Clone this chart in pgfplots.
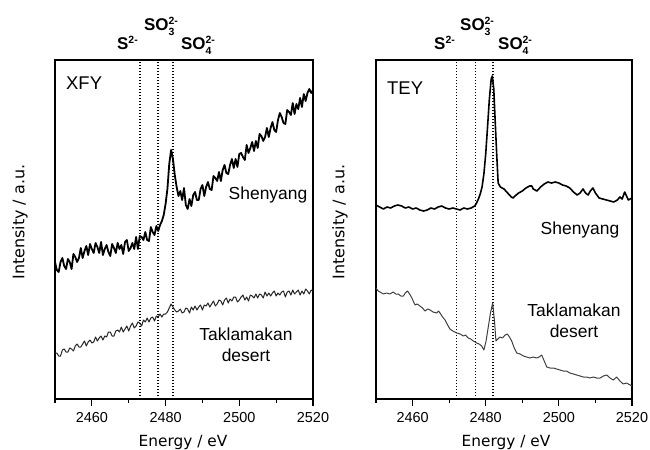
\documentclass[border=0pt]{standalone}
\usepackage{fontspec}
\setmainfont{Liberation Sans}
\newfontfamily\dejavu{DejaVu Sans}
\usepackage{pgfplots}
\pgfplotsset{compat=1.18}
\newcommand{\scr}{\fontsize{10.5}{10.5}\selectfont}
\newcommand{\ion}[2]{\textbf{#1\rlap{\raisebox{-5bp}{\scr #2}}\raisebox{5.2bp}{\scr 2-}}}
\newcommand{\sion}{\textbf{S\raisebox{5.2bp}{\scr 2-}}}
\pgfplotsset{
  panel/.style={
    anchor=south west, scale only axis, height=339bp,
    xmin=2450, xmax=2520, ymin=0, ymax=339,
    xtick={2460,2480,2500,2520}, minor xtick={2450,2470,2490,2510},
    ytick=\empty, xtick pos=bottom, tick align=outside,
    major tick length=7bp, minor tick length=4bp,
    axis line style={line width=1.3bp},
    every tick/.style={line width=1.1bp, black},
    /pgf/number format/assume math mode=true,
    /pgf/number format/1000 sep={},
    xticklabel style={font=\fontsize{14.5}{14.5}\selectfont, yshift=-3bp},
  },
  vline/.style={black, line width=1.5bp, dash pattern=on 1.5bp off 1.5bp},
}
\begin{document}
\begin{tikzpicture}
\useasboundingbox (0,0) rectangle (650bp,-450bp);
% ---------------- left panel (XFY)
\begin{axis}[panel, at={(55bp,-399bp)}, width=258bp]
\addplot[vline] coordinates {(2473,0) (2473,339)};
\addplot[vline] coordinates {(2478,0) (2478,339)};
\addplot[vline] coordinates {(2482,0) (2482,339)};
% Shenyang XFY
\addplot[black, line width=1.8bp, line join=round] coordinates {
(2450.0,137)(2450.5,129)(2451.0,127)(2451.5,137)(2452.0,141)(2452.5,133)(2453.0,130)(2453.5,140)(2454.0,137)(2454.5,130)
(2455.0,145)(2455.5,142)(2456.0,137)(2456.5,141)(2457.0,151)(2457.5,141)(2458.0,148)(2458.5,153)(2459.0,144)(2459.5,155)
(2460.0,150)(2460.5,146)(2461.0,156)(2461.5,152)(2462.0,146)(2462.5,157)(2463.0,144)(2463.5,150)(2464.0,154)(2464.5,147)
(2465.0,143)(2465.5,155)(2466.0,151)(2466.5,146)(2467.0,156)(2467.5,150)(2468.0,154)(2468.5,145)(2469.0,157)(2469.5,159)
(2470.0,148)(2470.5,151)(2471.0,156)(2471.5,150)(2472.0,162)(2472.5,150)(2473.0,163)(2473.5,162)(2474.0,159)(2474.5,167)
(2475.0,159)(2475.5,158)(2476.0,172)(2476.5,167)(2477.0,164)(2477.5,173)(2478.0,168)(2478.5,174)(2479.0,178)(2479.5,184)
(2480.0,195)(2480.5,210)(2481.0,235)(2481.5,249)(2482.0,240)(2482.5,224)(2483.0,212)(2483.5,203)(2484.0,208)(2484.5,199)
(2485.0,211)(2485.5,194)(2486.0,190)(2486.5,200)(2487.0,193)(2487.5,204)(2488.0,207)(2488.5,199)(2489.0,199)(2489.5,210)
(2490.0,214)(2490.5,203)(2491.0,212)(2491.5,217)(2492.0,210)(2492.5,209)(2493.0,223)(2493.5,221)(2494.0,218)(2494.5,227)
(2495.0,218)(2495.5,229)(2496.0,234)(2496.5,226)(2497.0,225)(2497.5,234)(2498.0,240)(2498.5,231)(2499.0,240)(2499.5,232)
(2500.0,245)(2500.5,246)(2501.0,242)(2501.5,239)(2502.0,254)(2502.5,246)(2503.0,251)(2503.5,257)(2504.0,248)(2504.5,258)
(2505.0,251)(2505.5,265)(2506.0,263)(2506.5,258)(2507.0,262)(2507.5,271)(2508.0,262)(2508.5,271)(2509.0,277)(2509.5,269)
(2510.0,267)(2510.5,279)(2511.0,286)(2511.5,282)(2512.0,276)(2512.5,275)(2513.0,289)(2513.5,287)(2514.0,284)(2514.5,296)
(2515.0,285)(2515.5,295)(2516.0,290)(2516.5,301)(2517.0,292)(2517.5,305)(2518.0,298)(2518.5,306)(2519.0,310)(2519.5,306)
(2520.0,309)};
% Taklamakan XFY
\addplot[black!85, line width=1.0bp, line join=round] coordinates {
(2450.0,46)(2450.5,46)(2451.0,43)(2451.5,43)(2452.0,49)(2452.5,50)(2453.0,47)(2453.5,47)(2454.0,51)(2454.5,50)
(2455.0,48)(2455.5,53)(2456.0,55)(2456.5,52)(2457.0,52)(2457.5,55)(2458.0,58)(2458.5,53)(2459.0,57)(2459.5,59)
(2460.0,56)(2460.5,57)(2461.0,62)(2461.5,58)(2462.0,61)(2462.5,63)(2463.0,59)(2463.5,63)(2464.0,62)(2464.5,67)
(2465.0,67)(2465.5,63)(2466.0,63)(2466.5,68)(2467.0,69)(2467.5,67)(2468.0,72)(2468.5,67)(2469.0,70)(2469.5,73)
(2470.0,68)(2470.5,73)(2471.0,76)(2471.5,71)(2472.0,73)(2472.5,77)(2473.0,76)(2473.5,73)(2474.0,79)(2474.5,77)
(2475.0,81)(2475.5,77)(2476.0,81)(2476.5,82)(2477.0,78)(2477.5,83)(2478.0,82)(2478.5,85)(2479.0,82)(2479.5,85)
(2480.0,85)(2480.5,87)(2481.0,91)(2481.5,95)(2482.0,92)(2482.5,89)(2483.0,87)(2483.5,88)(2484.0,90)(2484.5,86)
(2485.0,87)(2485.5,91)(2486.0,90)(2486.5,86)(2487.0,92)(2487.5,89)(2488.0,93)(2488.5,89)(2489.0,92)(2489.5,94)
(2490.0,89)(2490.5,94)(2491.0,93)(2491.5,96)(2492.0,92)(2492.5,95)(2493.0,98)(2493.5,93)(2494.0,95)(2494.5,99)
(2495.0,98)(2495.5,94)(2496.0,99)(2496.5,101)(2497.0,96)(2497.5,100)(2498.0,98)(2498.5,102)(2499.0,102)(2499.5,97)
(2500.0,99)(2500.5,102)(2501.0,104)(2501.5,99)(2502.0,102)(2502.5,98)(2503.0,104)(2503.5,103)(2504.0,101)(2504.5,105)
(2505.0,101)(2505.5,105)(2506.0,104)(2506.5,101)(2507.0,107)(2507.5,103)(2508.0,106)(2508.5,103)(2509.0,106)(2509.5,108)
(2510.0,103)(2510.5,106)(2511.0,104)(2511.5,107)(2512.0,108)(2512.5,102)(2513.0,107)(2513.5,108)(2514.0,104)(2514.5,109)
(2515.0,105)(2515.5,107)(2516.0,109)(2516.5,104)(2517.0,108)(2517.5,105)(2518.0,110)(2518.5,108)(2519.0,105)(2519.5,109)
(2520.0,108)};
\end{axis}
% ---------------- right panel (TEY)
\begin{axis}[panel, at={(376bp,-399bp)}, width=256bp]
\addplot[vline] coordinates {(2472,0) (2472,339)};
\addplot[vline] coordinates {(2477.2,0) (2477.2,339)};
\addplot[vline] coordinates {(2482,0) (2482,339)};
% Shenyang TEY
\addplot[black, line width=1.6bp, line join=round] coordinates {
(2450,194)(2451,192)(2452,190)(2453,192)(2454,191)(2455,193)(2456,194)(2457,193)(2458,191)(2459,192)
(2460,190)(2461,191)(2462,189)(2463,188)(2464,189)(2465,191)(2466,190)(2467,192)(2468,193)(2469,191)
(2470,190)(2471,191)(2472,190)(2473,189)(2474,191)(2475,190)(2476,191)(2477,193)(2477.5,196)(2478,200)
(2478.5,205)(2479,212)(2479.5,225)(2480,245)(2480.5,272)(2481,300)(2481.5,320)(2481.8,323)(2482.2,310)(2482.5,285)
(2483,245)(2483.4,216)(2484,212)(2485,210)(2486,206)(2487,202)(2487.5,201)(2488,203)(2489,206)(2490,208)
(2491,211)(2492,213)(2492.6,213)(2493,210)(2494,208)(2495,212)(2496,215)(2497,217)(2498,216)(2499,217)
(2500,216)(2501,214)(2502,213)(2503,211)(2504,207)(2505,204)(2505.8,206)(2506.6,210)(2507.3,206)(2508,204)
(2508.6,208)(2509.3,211)(2510,206)(2511,201)(2512,200)(2513,199)(2514,198)(2515,197)(2516,199)(2516.7,202)
(2517.3,200)(2518,207)(2519,199)(2519.5,200)(2520,201)};
% Taklamakan TEY
\addplot[black!75, line width=1.0bp, line join=round] coordinates {
(2450.0,111)(2450.6,108)(2451.1,107)(2452.0,105)(2452.9,106)(2453.8,105)(2454.7,107)(2455.4,105)(2456.1,105)(2456.8,103)
(2457.5,103)(2458.0,106)(2458.6,108)(2459.2,105)(2459.8,101)(2460.3,97)(2460.7,94)(2461.3,95)(2462.0,93)(2462.7,91)
(2463.4,88)(2464.1,90)(2464.8,89)(2465.6,87)(2466.6,86)(2467.1,88)(2467.5,86)(2468.2,82)(2468.9,79)(2469.6,74)
(2470.2,70)(2471.0,68)(2472.1,66)(2473.0,65)(2473.9,63)(2474.5,64)(2475.2,61)(2475.9,60)(2476.6,58)(2477.1,57)
(2477.5,56)(2478.2,55)(2478.9,53)(2479.5,49)(2480.1,58)(2480.7,72)(2481.3,86)(2481.9,96)(2482.4,78)(2482.8,58)
(2483.3,60)(2483.9,62)(2484.6,61)(2485.3,64)(2485.9,65)(2486.5,62)(2487.1,58)(2487.8,51)(2488.5,46)(2489.4,45)
(2490.3,43)(2491.2,42)(2492.1,41)(2493.0,42)(2493.9,41)(2494.6,42)(2495.3,44)(2496.0,38)(2496.7,32)(2497.6,31)
(2498.5,31)(2499.4,30)(2500.3,29)(2501.2,28)(2502.1,28)(2503.0,26)(2504.0,25)(2504.9,24)(2505.8,23)(2506.7,22)
(2507.6,22)(2508.5,21)(2509.4,22)(2510.3,21)(2511.3,21)(2512.2,23)(2513.1,24)(2514.0,21)(2514.9,19)(2515.8,22)
(2516.7,18)(2517.6,15)(2518.5,16)(2519.5,14)(2520.0,13)};
\end{axis}
% ---------------- texts
\node[anchor=west, inner sep=0pt, font=\fontsize{18.5}{18.5}\selectfont] at (66bp,-83bp) {XFY};
\node[anchor=west, inner sep=0pt, font=\fontsize{18.5}{18.5}\selectfont] at (387bp,-88bp) {TEY};
\node[inner sep=0pt, font=\fontsize{17.5}{17.5}\selectfont] at (268bp,-195bp) {Shenyang};
\node[inner sep=0pt, font=\fontsize{17.5}{17.5}\selectfont] at (580bp,-230bp) {Shenyang};
\node[inner sep=0pt, align=center, font=\fontsize{17.5}{21}\selectfont] at (246bp,-345bp) {Taklamakan\\desert};
\node[inner sep=0pt, align=center, font=\fontsize{17.5}{21}\selectfont] at (574bp,-321bp) {Taklamakan\\desert};
% ion labels
\node[anchor=base west, inner sep=0pt, font=\fontsize{17}{17}\selectfont] at (117bp,-49bp) {\sion};
\node[anchor=base west, inner sep=0pt, font=\fontsize{17}{17}\selectfont] at (144bp,-30bp) {\ion{SO}{3}};
\node[anchor=base west, inner sep=0pt, font=\fontsize{17}{17}\selectfont] at (181bp,-49bp) {\ion{SO}{4}};
\node[anchor=base west, inner sep=0pt, font=\fontsize{17}{17}\selectfont] at (434bp,-49bp) {\sion};
\node[anchor=base west, inner sep=0pt, font=\fontsize{17}{17}\selectfont] at (460bp,-30bp) {\ion{SO}{3}};
\node[anchor=base west, inner sep=0pt, font=\fontsize{17}{17}\selectfont] at (498bp,-49bp) {\ion{SO}{4}};
% axis labels
\node[anchor=base, inner sep=0pt, font=\dejavu\fontsize{15.4}{15.4}\selectfont] at (183bp,-446bp) {Energy / eV};
\node[anchor=base, inner sep=0pt, font=\dejavu\fontsize{15.4}{15.4}\selectfont] at (506bp,-446bp) {Energy / eV};
\node[rotate=90, inner sep=0pt, font=\dejavu\fontsize{16}{16}\selectfont] at (20bp,-222bp) {Intensity / a.u.};
\node[rotate=90, inner sep=0pt, font=\dejavu\fontsize{16}{16}\selectfont] at (340bp,-222bp) {Intensity / a.u.};
\end{tikzpicture}
\end{document}
